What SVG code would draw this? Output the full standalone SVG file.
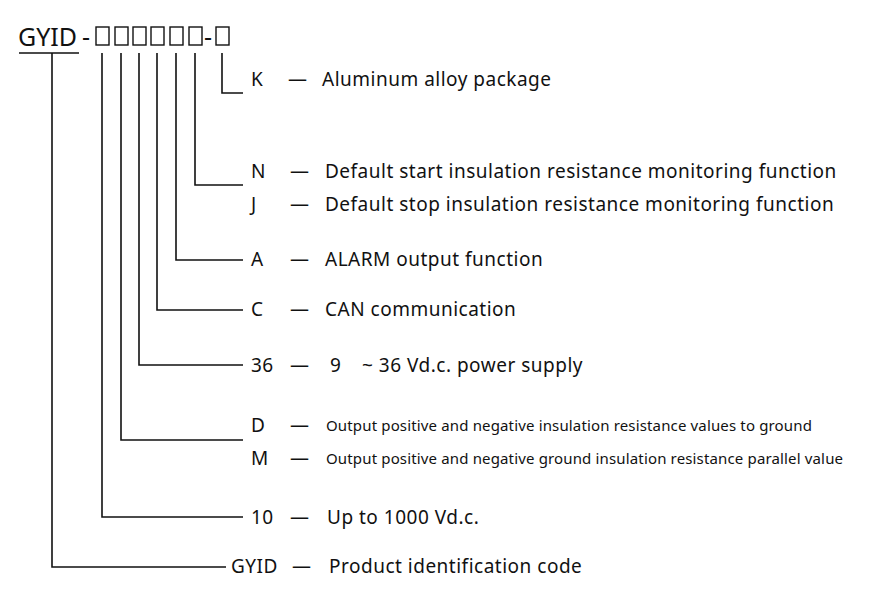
<svg xmlns="http://www.w3.org/2000/svg" width="887" height="596" viewBox="0 0 887 596">
<style>
text{font-family:"Noto Sans","Liberation Sans",sans-serif;fill:#111}
.t{font-size:19px;letter-spacing:0.5px}
.s{font-size:15px;letter-spacing:0.15px}
.h{font-size:25px}
.l{fill:none;stroke:#111;stroke-width:1.6}
.b{fill:none;stroke:#111;stroke-width:1.4}
</style>
<rect width="887" height="596" fill="#fff"/>
<g id="code">
<text class="h" x="18" y="46">GYID</text>
<text class="h" x="82" y="46">-</text>
<rect class="b" x="96" y="27" width="13" height="18"/>
<rect class="b" x="115" y="27" width="13" height="18"/>
<rect class="b" x="133" y="27" width="13" height="18"/>
<rect class="b" x="151" y="27" width="13" height="18"/>
<rect class="b" x="170" y="27" width="13" height="18"/>
<rect class="b" x="189" y="27" width="13" height="18"/>
<text class="h" x="204" y="46">-</text>
<rect class="b" x="216" y="27" width="13" height="18"/>
</g>
<g id="connectors">
<path class="l" d="M19 53H79M52 53V567H226"/>
<path class="l" d="M222 53V93H243"/>
<path class="l" d="M195 53V185H243"/>
<path class="l" d="M176 53V260H243"/>
<path class="l" d="M157 53V310H243"/>
<path class="l" d="M139 53V365H243"/>
<path class="l" d="M121 53V440H243"/>
<path class="l" d="M102 53V517H243"/>
</g>
<g id="K"><text class="t" x="251" y="86">K</text><text class="t" x="288" y="86">—</text><text class="t" x="322" y="86">Aluminum alloy package</text></g>
<g id="N"><text class="t" x="251" y="178">N</text><text class="t" x="290" y="178">—</text><text class="t" x="325" y="178">Default start insulation resistance monitoring function</text></g>
<g id="J"><text class="t" x="251" y="211">J</text><text class="t" x="290" y="211">—</text><text class="t" x="325" y="211">Default stop insulation resistance monitoring function</text></g>
<g id="A"><text class="t" x="251" y="266">A</text><text class="t" x="290" y="266">—</text><text class="t" x="325" y="266">ALARM output function</text></g>
<g id="C"><text class="t" x="251" y="316">C</text><text class="t" x="290" y="316">—</text><text class="t" x="325" y="316">CAN communication</text></g>
<g id="V36"><text class="t" x="251" y="372">36</text><text class="t" x="290" y="372">—</text><text class="t" x="330" y="372">9</text><text class="t" x="362" y="372">~ 36  Vd.c. power supply</text></g>
<g id="D"><text class="t" x="251" y="432">D</text><text class="t" x="290" y="432">—</text><text class="s" x="326" y="431">Output positive and negative insulation resistance values to ground</text></g>
<g id="M"><text class="t" x="251" y="465">M</text><text class="t" x="290" y="465">—</text><text class="s" x="326" y="464">Output positive and negative ground insulation resistance parallel value</text></g>
<g id="V10"><text class="t" x="251" y="524">10</text><text class="t" x="290" y="524">—</text><text class="t" x="327" y="524">Up to 1000 Vd.c.</text></g>
<g id="GYID"><text class="t" x="231" y="573">GYID</text><text class="t" x="292" y="573">—</text><text class="t" x="329" y="573">Product identification code</text></g>
</svg>
